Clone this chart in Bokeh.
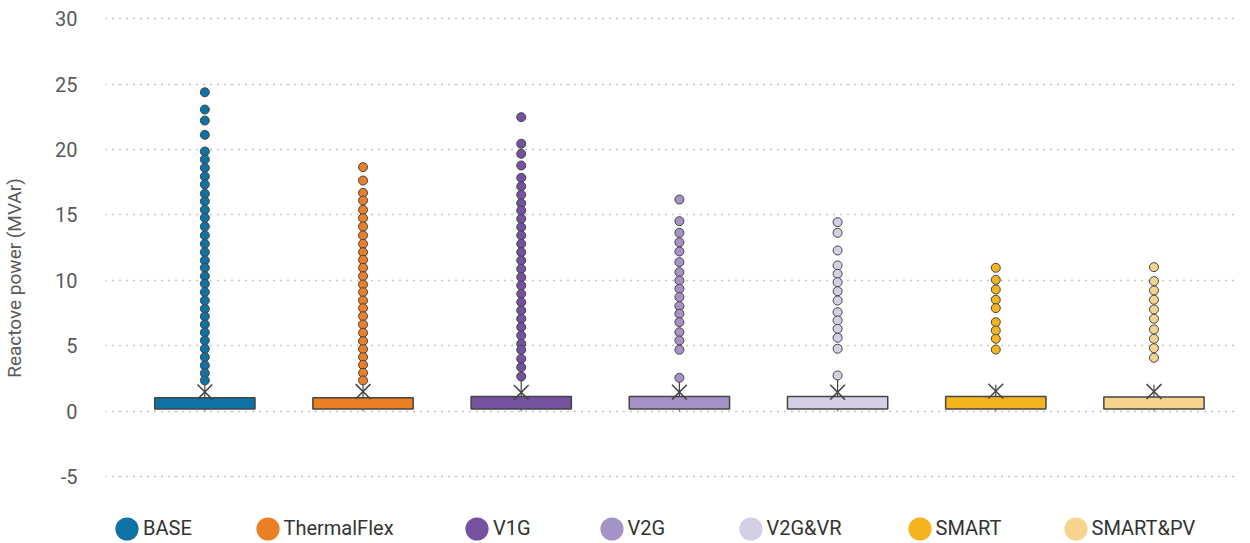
from bokeh.plotting import figure
from bokeh.models import ColumnDataSource, FixedTicker, Range1d, Legend, LegendItem
from bokeh.embed import file_html
from bokeh.resources import INLINE

# ---------------- data ----------------
categories = ["BASE", "ThermalFlex", "V1G", "V2G", "V2G&VR", "SMART", "SMART&PV"]
colors = ["#0f72a4", "#ea7f25", "#7552a0", "#a592c6", "#d5cfe6", "#f3b41e", "#f7d48e"]

lower_whisker = [0.0, 0.0, 0.0, 0.0, 0.0, 0.0, 0.0]
q1 = [0.18, 0.18, 0.18, 0.18, 0.18, 0.18, 0.18]
median = [0.62, 0.6, 0.62, 0.6, 0.6, 0.62, 0.6]
q3 = [1.05, 1.05, 1.15, 1.15, 1.15, 1.15, 1.1]
mean = [1.49, 1.52, 1.45, 1.47, 1.47, 1.55, 1.52]
upper_whisker = [2.33, 2.29, 2.62, 2.5, 2.6, 2.04, 2.04]

outliers_base = [24.37, 23.05, 22.21, 21.12, 19.85, 19.24, 18.60, 17.94, 17.33, 16.62,
                 16.05, 15.40, 14.79, 14.12, 13.44, 12.80, 12.16, 11.53, 10.97, 10.33,
                 9.75, 9.11, 8.47, 7.84, 7.25, 6.64, 6.03, 5.42, 4.79, 4.15, 3.51, 2.92, 2.37]
outliers_thermalflex = [18.65, 17.63, 16.69, 16.11, 15.40, 14.76, 14.12, 13.44, 12.80, 12.16,
                        11.58, 10.97, 10.33, 9.69, 9.11, 8.47, 7.89, 7.27, 6.64, 6.01,
                        5.37, 4.76, 4.15, 3.56, 2.95, 2.37]
outliers_v1g = [22.47, 20.44, 19.67, 18.78, 17.84, 17.18, 16.54, 15.90, 15.34, 14.71,
                14.07, 13.44, 12.80, 12.16, 11.53, 10.89, 10.25, 9.62, 8.98, 8.34,
                7.71, 7.08, 6.44, 5.80, 5.17, 4.71, 4.02, 3.38, 2.67]
outliers_v2g = [16.18, 14.53, 13.64, 12.92, 12.21, 11.40, 10.63, 10.0, 9.37, 8.73,
                8.04, 7.46, 6.82, 6.05, 5.42, 4.71, 2.57]
outliers_v2gvr = [14.45, 13.64, 12.29, 11.15, 10.51, 9.87, 9.18, 8.47, 7.58, 6.95,
                  6.31, 5.63, 4.79, 2.75]
outliers_smart = [10.97, 10.05, 9.31, 8.53, 7.89, 6.82, 6.18, 5.55, 4.73]
outliers_smartpv = [11.02, 9.95, 9.24, 8.53, 7.79, 7.08, 6.26, 5.55, 4.83, 4.10]
outliers = [outliers_base, outliers_thermalflex, outliers_v1g, outliers_v2g,
            outliers_v2gvr, outliers_smart, outliers_smartpv]

y_ticks = [-5, 0, 5, 10, 15, 20, 25, 30]
y_title = "Reactove power (MVAr)"

# ---------------- figure ----------------
FONT = "Roboto"
xs = list(range(len(categories)))

p = figure(width=1234, height=543, output_backend="svg", toolbar_location=None,
           x_range=Range1d(-0.628, 6.509), y_range=Range1d(-10.08, 30.46),
           x_axis_location=None, min_border_left=97, min_border_right=0,
           min_border_top=12, min_border_bottom=0)
p.outline_line_color = None
p.background_fill_color = "white"
p.border_fill_color = "white"

# axis
ax = p.yaxis[0]
ax.ticker = FixedTicker(ticks=y_ticks)
ax.major_label_overrides = {t: str(t) for t in y_ticks}
ax.axis_line_color = None
ax.major_tick_line_color = None
ax.minor_tick_line_color = None
ax.major_label_text_font = FONT
ax.major_label_text_font_size = "20px"
ax.major_label_text_color = "#595959"
ax.major_label_standoff = 22
ax.axis_label = y_title
ax.axis_label_text_font = FONT
ax.axis_label_text_font_size = "19px"
ax.axis_label_text_font_style = "normal"
ax.axis_label_text_color = "#595959"
ax.axis_label_standoff = 26

# grid
p.xgrid.visible = False
p.ygrid.ticker = FixedTicker(ticks=y_ticks)
p.ygrid.grid_line_color = "#8c8c8c"
p.ygrid.grid_line_dash = "1 6"
p.ygrid.grid_line_width = 1.3

src = ColumnDataSource(dict(x=xs, cat=categories, color=colors, lo=lower_whisker,
                            q1=q1, med=median, q3=q3, mean=mean, hi=upper_whisker))

BOX_W = 0.634
CAP_W = 0.157
EDGE = "#454545"

# legend swatches (drawn first, hidden under the boxes)
legend_renderers = []
for i in range(len(categories)):
    r = p.ellipse(x=[xs[i]], y=[median[i]], width=8, height=8, width_units="screen",
                  height_units="screen", fill_color=colors[i], line_color=None)
    legend_renderers.append(r)

# upper whisker stem
p.segment(x0="x", y0="q3", x1="x", y1="hi", source=src, line_color=EDGE, line_width=1.2)
# lower whisker stem
p.segment(x0="x", y0="lo", x1="x", y1="q1", source=src, line_color="#777777", line_width=1.2)
# boxes
p.vbar(x="x", width=BOX_W, bottom="q1", top="q3", source=src, fill_color="color",
       line_color=EDGE, line_width=1.5)
# median
p.rect(x="x", y="med", width=BOX_W, height=0, source=src, line_color=EDGE,
       line_width=1, fill_color=None)
# caps
p.rect(x="x", y="hi", width=CAP_W, height=0, source=src, line_color=EDGE,
       line_width=1.5, fill_color=None)
p.rect(x="x", y="lo", width=CAP_W, height=0, source=src, line_color="#8a8a8a",
       line_width=2.5, fill_color=None)
# mean marker
p.scatter(x="x", y="mean", source=src, marker="x", size=21, line_color=EDGE,
          line_width=1.5)

# outliers
for i, vals in enumerate(outliers):
    p.scatter(x=[xs[i]] * len(vals), y=vals, size=9, fill_color=colors[i],
              line_color=EDGE, line_width=1)

# legend: one entry per category, placed below the boxes
legend_x = [7, 147.5, 357, 491.5, 630.5, 799.5, 955.5]
for i, cat in enumerate(categories):
    lg = Legend(items=[LegendItem(label=cat, renderers=[legend_renderers[i]])],
                location=(legend_x[i], 0.5), orientation="horizontal",
                glyph_width=29, glyph_height=29, label_standoff=2,
                padding=0, margin=0, spacing=0,
                border_line_color=None, background_fill_alpha=0,
                label_text_font=FONT, label_text_font_size="20px",
                label_text_color="#333333", label_height=20)
    p.add_layout(lg, "center")

open("out.html", "w").write(file_html(p, INLINE))
